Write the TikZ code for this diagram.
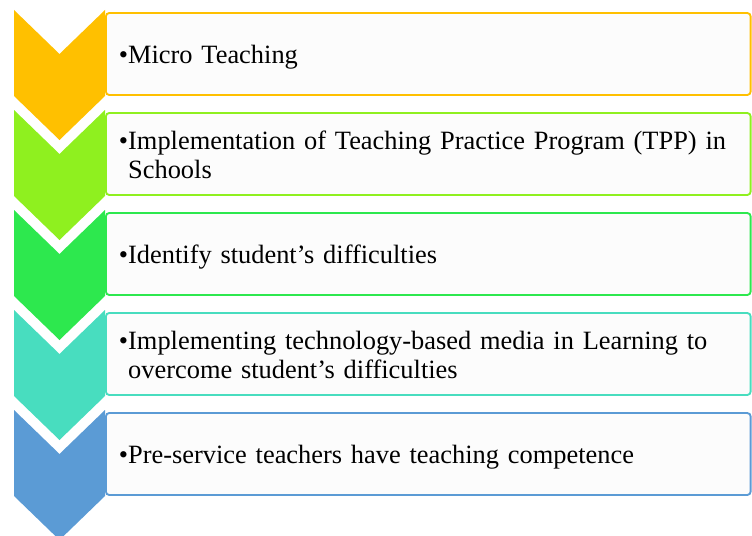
\documentclass[tikz,border=0pt]{standalone}
\usepackage{fontspec}
\setmainfont{Liberation Serif}
\usepackage{tikz}
\usetikzlibrary{positioning}

\definecolor{corange}{HTML}{FFC000}
\definecolor{clime}{HTML}{8FF01F}
\definecolor{cgreen}{HTML}{2DE84E}
\definecolor{cteal}{HTML}{48DDBF}
\definecolor{cblue}{HTML}{5B9BD5}

\newcommand{\steptext}[1]{\raisebox{-3pt}[\height][\depth]{\begin{tabular}{@{}l@{}l@{}}\textbullet\hspace{2pt}&#1\end{tabular}}}

\tikzset{
  stepbox/.style={draw=#1, fill=black!1, line width=1.4pt,
    rounded corners=2.5pt, minimum height=61.5pt, text width=464pt,
    inner xsep=9.75pt, align=left,
    font=\fontsize{19.8}{21.75}\selectfont}
}

\begin{document}
\begin{tikzpicture}[x=0.75pt, y=-0.75pt, node distance = 75pt, on grid]
   \useasboundingbox (0,0) rectangle (752,535);
   \node[stepbox=corange, anchor=west] (s1) at (105,54) {\steptext{Micro Teaching}};
   \node[stepbox=clime] (s2) [below = of s1] {\steptext{Implementation of Teaching Practice Program (TPP) in\\&Schools}};
   \node[stepbox=cgreen] (s3) [below = of s2] {\steptext{Identify student’s difficulties}};
   \node[stepbox=cteal] (s4) [below = of s3] {\steptext{Implementing technology-based media in Learning to\\&overcome student’s difficulties}};
   \node[stepbox=cblue] (s5) [below = of s4] {\steptext{Pre-service teachers have teaching competence}};
   % chevrons
   \fill[corange] (14,10)  -- ++(45.5,44) -- ++(45.5,-44) -- ++(0,86) -- ++(-45.5,44) -- ++(-45.5,-44) -- cycle;
   \fill[clime]   (14,110) -- ++(45.5,44) -- ++(45.5,-44) -- ++(0,86) -- ++(-45.5,44) -- ++(-45.5,-44) -- cycle;
   \fill[cgreen]  (14,210) -- ++(45.5,44) -- ++(45.5,-44) -- ++(0,86) -- ++(-45.5,44) -- ++(-45.5,-44) -- cycle;
   \fill[cteal]   (14,310) -- ++(45.5,44) -- ++(45.5,-44) -- ++(0,86) -- ++(-45.5,44) -- ++(-45.5,-44) -- cycle;
   \fill[cblue]   (14,410) -- ++(45.5,44) -- ++(45.5,-44) -- ++(0,86) -- ++(-45.5,44) -- ++(-45.5,-44) -- cycle;
\end{tikzpicture}
\end{document}
